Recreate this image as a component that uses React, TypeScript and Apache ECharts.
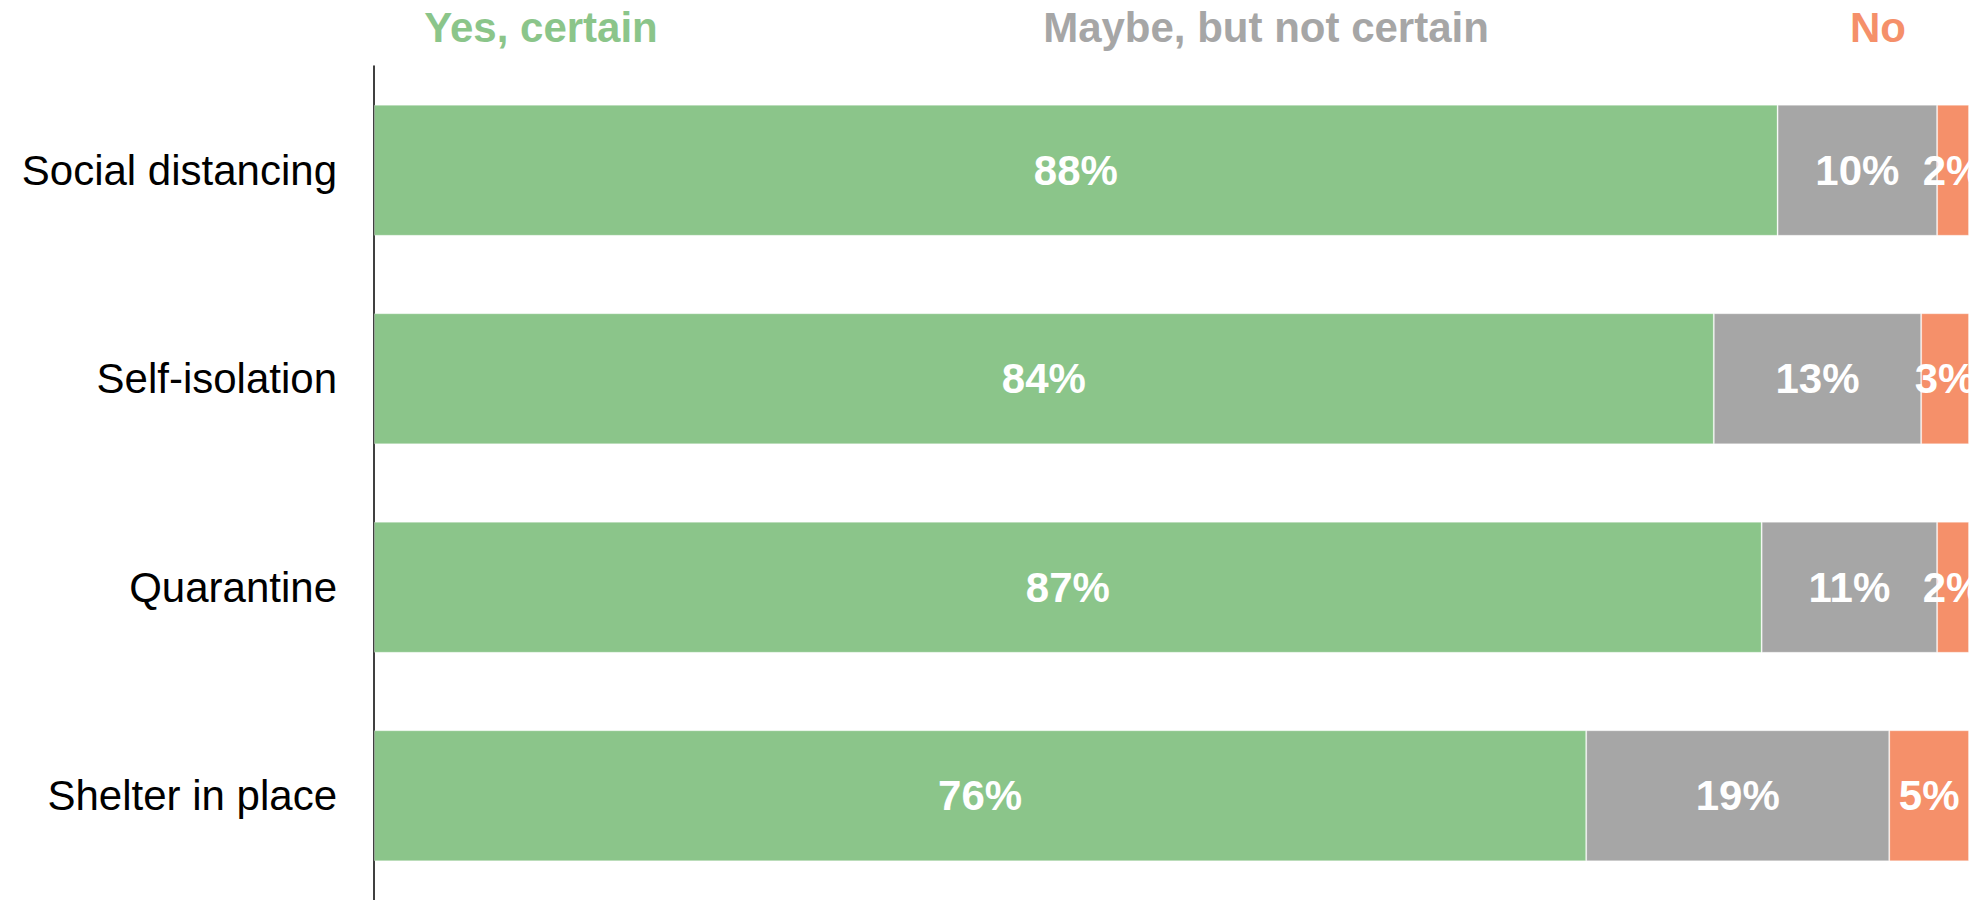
import React, { useEffect, useRef } from "react";
import * as echarts from "echarts";

const categories = ["Social distancing", "Self-isolation", "Quarantine", "Shelter in place"];
const seriesNames = ["Yes, certain", "Maybe, but not certain", "No"];
const yesValues = [88, 84, 87, 76];
const maybeValues = [10, 13, 11, 19];
const noValues = [2, 3, 2, 5];
const colors = ["#8BC58A", "#A6A6A6", "#F5906A"];
const headerX = [541, 1266, 1878];

export default function App() {
  const ref = useRef<HTMLDivElement>(null);
  useEffect(() => {
    if (!ref.current) return;
    const chart = echarts.init(ref.current, undefined, { renderer: "svg" });
    const values = [yesValues, maybeValues, noValues];
    const font = "Arial, 'Liberation Sans', sans-serif";
    chart.setOption({
      animation: false,
      backgroundColor: "#ffffff",
      grid: { left: 374, right: 8, top: 66, height: 838, containLabel: false },
      xAxis: { type: "value", min: 0, max: 100, show: false },
      yAxis: {
        type: "category",
        data: categories,
        inverse: true,
        axisLine: { show: true, lineStyle: { color: "#000", width: 1.5 } },
        axisTick: { show: false },
        splitLine: { show: false },
        axisLabel: { color: "#000", fontSize: 42, fontFamily: font, margin: 37 },
      },
      graphic: seriesNames.map((n, i) => ({
        type: "text",
        x: headerX[i],
        y: 27,
        style: {
          text: n,
          fill: colors[i],
          font: `bold 42px ${font}`,
          textAlign: "center",
          textVerticalAlign: "middle",
        },
      })),
      series: seriesNames.map((n, i) => ({
        name: n,
        type: "bar",
        stack: "total",
        data: values[i],
        barWidth: 131,
        itemStyle: { color: colors[i], borderColor: "rgba(255,255,255,0.3)", borderWidth: 1 },
        label: {
          show: true,
          position: "inside",
          formatter: "{c}%",
          color: "#fff",
          fontSize: 42,
          fontWeight: "bold",
          fontFamily: font,
        },
      })),
    });
    return () => chart.dispose();
  }, []);
  return (
    <div
      ref={ref}
      style={{ position: "absolute", left: 0, top: 0, width: 1977, height: 900 }}
    />
  );
}
